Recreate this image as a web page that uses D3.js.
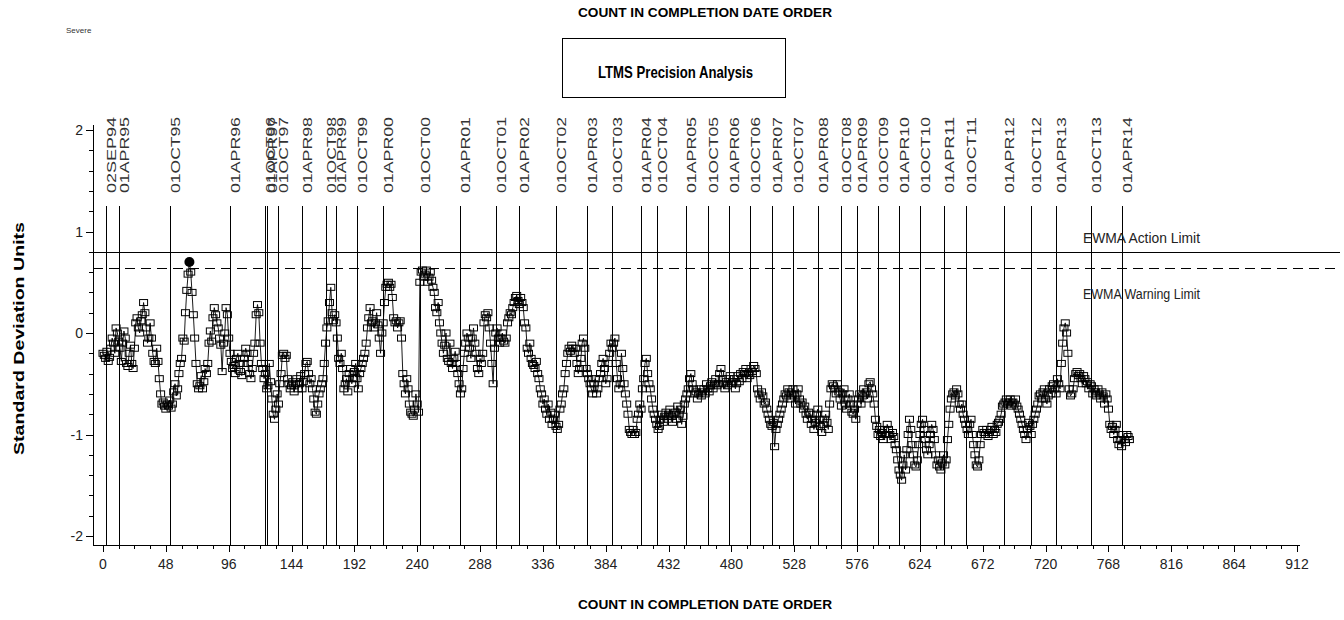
<!DOCTYPE html>
<html>
<head>
<meta charset="utf-8">
<script src="https://cdn.jsdelivr.net/npm/d3@7"></script>
<style>
  html, body { margin: 0; padding: 0; background: #fff; }
  svg { display: block; }
  .narrow { font-family: "Liberation Sans Narrow", "Arial Narrow", "Liberation Sans", sans-serif; }
  .plain { font-family: "Liberation Sans", "DejaVu Sans", sans-serif; }
</style>
</head>
<body>
<svg id="chart" width="1344" height="620"></svg>
<script>
// EWMA values in completion-date order (count 0 .. 784), standard deviation units
const ewmaValues = [
  -0.20,-0.22,-0.25,-0.18,-0.28,-0.24,-0.15,-0.05,-0.10,-0.20,
   0.05, 0.00,-0.08,-0.15,-0.28,-0.10, 0.02,-0.05,-0.30,-0.33,
  -0.20,-0.12,-0.30,-0.35,-0.15, 0.10, 0.15, 0.05, 0.00, 0.12,
   0.18, 0.30, 0.20, 0.05,-0.10,-0.05, 0.10,-0.05,-0.20,-0.28,
  -0.30,-0.15,-0.28,-0.45,-0.60,-0.70,-0.68,-0.72,-0.75,-0.70,
  -0.72,-0.66,-0.74,-0.70,-0.58,-0.50,-0.62,-0.55,-0.40,-0.30,
  -0.25,-0.05,-0.08, 0.20, 0.42, 0.58, 0.70, 0.60, 0.40, 0.18,
  -0.05,-0.30,-0.50,-0.55,-0.52,-0.42,-0.55,-0.48,-0.35,-0.40,
  -0.30,-0.10, 0.02,-0.08, 0.15, 0.25, 0.18, 0.10, 0.05,-0.05,
  -0.12,-0.38,-0.10, 0.00, 0.25, 0.18,-0.05,-0.20,-0.28,-0.35,
  -0.32,-0.40,-0.25,-0.20,-0.30,-0.38,-0.42,-0.30,-0.25,-0.15,
  -0.20,-0.30,-0.40,-0.45,-0.35,-0.20,-0.10, 0.18, 0.28, 0.20,
  -0.10,-0.30,-0.35,-0.45,-0.40,-0.55,-0.52,-0.30,-0.48,-0.65,
  -0.80,-0.85,-0.75,-0.60,-0.70,-0.50,-0.40,-0.22,-0.20,-0.25,
  -0.22,-0.45,-0.50,-0.55,-0.52,-0.48,-0.58,-0.50,-0.45,-0.55,
  -0.50,-0.42,-0.55,-0.48,-0.40,-0.30,-0.28,-0.40,-0.50,-0.45,
  -0.55,-0.65,-0.78,-0.80,-0.70,-0.60,-0.55,-0.50,-0.45,-0.30,
  -0.10, 0.05, 0.12, 0.30, 0.45, 0.20, 0.12, 0.18, 0.10,-0.05,
  -0.25,-0.30,-0.20,-0.35,-0.55,-0.50,-0.45,-0.58,-0.40,-0.35,
  -0.50,-0.45,-0.38,-0.30,-0.45,-0.55,-0.40,-0.35,-0.30,-0.25,
  -0.20,-0.10, 0.05, 0.15, 0.25, 0.10, 0.12, 0.05, 0.10, 0.20,
   0.08,-0.05,-0.20, 0.00, 0.10, 0.30, 0.45, 0.48, 0.50, 0.45,
   0.48, 0.35, 0.15, 0.10, 0.12, 0.05, 0.10, 0.12,-0.05,-0.40,
  -0.50,-0.60,-0.45,-0.55,-0.70,-0.78,-0.80,-0.82,-0.75,-0.60,
  -0.70,-0.78, 0.50, 0.60, 0.62, 0.55, 0.58, 0.62, 0.50, 0.55,
   0.60, 0.52, 0.45, 0.40, 0.25, 0.20, 0.30, 0.10, 0.00,-0.10,
  -0.20,-0.12, 0.00,-0.25,-0.28,-0.10,-0.30,-0.35,-0.25,-0.18,
  -0.30,-0.40,-0.50,-0.60,-0.55,-0.35,-0.20,-0.10, 0.00,-0.05,
  -0.15,-0.25,-0.05, 0.05,-0.10,-0.20,-0.35,-0.40,-0.25,-0.30,
  -0.20, 0.10, 0.18, 0.15, 0.20, 0.05,-0.10,-0.30,-0.50,-0.15,
   0.00, 0.05,-0.05,-0.10,-0.05, 0.00,-0.08,-0.10,-0.05, 0.10,
   0.15, 0.20, 0.18, 0.25, 0.30, 0.35, 0.37, 0.32, 0.28, 0.35,
   0.30, 0.25, 0.10, 0.05,-0.15,-0.20,-0.10,-0.25,-0.30,-0.32,
  -0.35,-0.28,-0.40,-0.45,-0.55,-0.60,-0.70,-0.65,-0.75,-0.80,
  -0.70,-0.85,-0.78,-0.90,-0.85,-0.80,-0.92,-0.95,-0.90,-0.75,
  -0.70,-0.60,-0.55,-0.40,-0.30,-0.20,-0.15,-0.18,-0.12,-0.15,
  -0.20,-0.15,-0.30,-0.40,-0.35,-0.25,-0.10,-0.05,-0.15,-0.35,
  -0.40,-0.45,-0.50,-0.55,-0.60,-0.50,-0.45,-0.60,-0.55,-0.45,
  -0.40,-0.30,-0.25,-0.35,-0.50,-0.45,-0.30,-0.20,-0.10,-0.15,
  -0.10,-0.05,-0.30,-0.45,-0.55,-0.50,-0.20,-0.35,-0.50,-0.60,
  -0.70,-0.80,-0.95,-0.98,-1.00,-0.95,-1.00,-0.98,-0.85,-0.80,
  -0.70,-0.75,-0.55,-0.45,-0.30,-0.25,-0.40,-0.50,-0.55,-0.65,
  -0.75,-0.80,-0.85,-0.90,-0.95,-0.92,-0.85,-0.80,-0.88,-0.82,
  -0.78,-0.85,-0.80,-0.75,-0.82,-0.88,-0.80,-0.78,-0.85,-0.72,
  -0.80,-0.75,-0.90,-0.82,-0.70,-0.65,-0.60,-0.55,-0.45,-0.40,
  -0.50,-0.55,-0.60,-0.58,-0.65,-0.60,-0.55,-0.62,-0.58,-0.55,
  -0.60,-0.50,-0.55,-0.58,-0.52,-0.48,-0.55,-0.50,-0.45,-0.52,
  -0.50,-0.40,-0.35,-0.45,-0.50,-0.55,-0.48,-0.52,-0.45,-0.42,
  -0.50,-0.48,-0.45,-0.55,-0.50,-0.42,-0.48,-0.40,-0.45,-0.38,
  -0.40,-0.35,-0.45,-0.40,-0.42,-0.35,-0.38,-0.32,-0.35,-0.40,
  -0.55,-0.60,-0.65,-0.58,-0.62,-0.70,-0.68,-0.75,-0.80,-0.85,
  -0.90,-0.92,-0.88,-1.12,-0.95,-0.90,-0.85,-0.80,-0.75,-0.70,
  -0.65,-0.60,-0.62,-0.55,-0.58,-0.65,-0.60,-0.55,-0.62,-0.70,
  -0.60,-0.55,-0.65,-0.70,-0.68,-0.75,-0.72,-0.80,-0.85,-0.78,
  -0.80,-0.90,-0.85,-0.95,-0.88,-0.80,-0.75,-0.85,-0.92,-0.98,
  -0.90,-0.85,-0.80,-0.88,-0.95,-0.70,-0.55,-0.50,-0.52,-0.55,
  -0.60,-0.50,-0.58,-0.65,-0.72,-0.60,-0.55,-0.70,-0.75,-0.65,
  -0.60,-0.70,-0.78,-0.80,-0.75,-0.85,-0.70,-0.65,-0.60,-0.70,
  -0.62,-0.55,-0.60,-0.58,-0.65,-0.50,-0.48,-0.55,-0.60,-0.70,
  -0.85,-0.92,-1.00,-0.95,-1.02,-0.98,-1.05,-0.95,-1.00,-0.90,
  -0.95,-1.00,-1.05,-0.98,-1.02,-1.10,-1.15,-1.25,-1.35,-1.40,
  -1.45,-1.30,-1.20,-1.35,-1.15,-1.00,-0.85,-0.95,-1.10,-1.20,
  -1.30,-1.32,-1.25,-1.10,-1.00,-0.90,-0.85,-0.95,-1.05,-1.15,
  -1.20,-1.10,-1.00,-0.90,-0.95,-1.05,-1.20,-1.30,-1.25,-1.32,
  -1.35,-1.28,-1.20,-1.30,-1.25,-1.05,-0.90,-0.75,-0.65,-0.60,
  -0.58,-0.62,-0.55,-0.60,-0.70,-0.75,-0.70,-0.80,-0.85,-0.90,
  -0.95,-1.00,-0.90,-0.85,-1.00,-1.10,-1.20,-1.30,-1.32,-1.25,
  -1.10,-1.00,-0.95,-0.98,-1.00,-0.95,-1.02,-0.98,-0.95,-0.92,
  -1.00,-0.95,-0.98,-0.90,-0.88,-0.85,-0.80,-0.72,-0.70,-0.68,
  -0.65,-0.70,-0.68,-0.65,-0.72,-0.68,-0.70,-0.65,-0.72,-0.75,
  -0.80,-0.85,-0.90,-0.95,-1.00,-1.05,-0.95,-0.88,-0.92,-1.00,
  -0.90,-0.85,-0.80,-0.75,-0.70,-0.62,-0.60,-0.65,-0.58,-0.55,
  -0.65,-0.70,-0.62,-0.55,-0.60,-0.52,-0.50,-0.55,-0.60,-0.45,
  -0.50,-0.55,-0.30,-0.10, 0.05, 0.10, 0.00,-0.20,-0.55,-0.62,
  -0.60,-0.55,-0.45,-0.40,-0.38,-0.42,-0.40,-0.45,-0.50,-0.42,
  -0.45,-0.50,-0.48,-0.55,-0.50,-0.52,-0.60,-0.55,-0.58,-0.62,
  -0.55,-0.60,-0.65,-0.58,-0.62,-0.70,-0.60,-0.65,-0.75,-0.90,
  -0.95,-0.92,-1.00,-0.95,-0.90,-1.05,-1.10,-1.05,-1.12,-1.00,
  -1.05,-1.08,-1.00,-1.02,-1.05
];

// Reference dates marked along the count axis
const dateLabels = ["02SEP94","01APR95","01OCT95","01APR96","01OCT96","01APR97","01OCT97","01APR98",
  "01OCT98","01APR99","01OCT99","01APR00","01OCT00","01APR01","01OCT01","01APR02","01OCT02","01APR03",
  "01OCT03","01APR04","01OCT04","01APR05","01OCT05","01APR06","01OCT06","01APR07","01OCT07","01APR08",
  "01OCT08","01APR09","01OCT09","01APR10","01OCT10","01APR11","01OCT11","01APR12","01OCT12","01APR13",
  "01OCT13","01APR14"];
const dateCounts = [2,12,51,97,124,125,134,152,170,178,194,214,242,273,300,318,346,370,389,411,423,445,
  462,478,494,511,527,546,564,576,592,608,624,642,659,688,709,728,755,778];

// Control limits
const actionLimit = 0.80;
const warningLimit = 0.64;

// Axis ticks
const xTicks = [0,48,96,144,192,240,288,336,384,432,480,528,576,624,672,720,768,816,864,912];
const yTicks = [2,1,0,-1,-2];

const svg = d3.select("#chart");

const x = d3.scaleLinear().domain([0, 912]).range([103, 1297]);
const y = d3.scaleLinear().domain([-2, 2]).range([536, 130]);

const axisLeftX = 93, axisTop = 125, axisBottomY = 545, axisRightX = 1300;

// Top and bottom captions
svg.append("text").attr("class", "narrow")
  .attr("x", 578).attr("y", 17)
  .attr("font-size", 13).attr("font-weight", "bold")
  .attr("textLength", 254).attr("lengthAdjust", "spacingAndGlyphs")
  .text("COUNT IN COMPLETION DATE ORDER");
svg.append("text").attr("class", "narrow")
  .attr("x", 578).attr("y", 609)
  .attr("font-size", 13).attr("font-weight", "bold")
  .attr("textLength", 254).attr("lengthAdjust", "spacingAndGlyphs")
  .text("COUNT IN COMPLETION DATE ORDER");

svg.append("text").attr("class", "plain")
  .attr("x", 66).attr("y", 33).attr("font-size", 8).attr("fill", "#333")
  .text("Severe");

// Title box
svg.append("rect").attr("x", 562.5).attr("y", 38.5).attr("width", 223).attr("height", 59)
  .attr("fill", "none").attr("stroke", "#000").attr("stroke-width", 1);
svg.append("text").attr("class", "narrow")
  .attr("x", 598).attr("y", 78)
  .attr("font-size", 17).attr("font-weight", "bold")
  .attr("textLength", 155).attr("lengthAdjust", "spacingAndGlyphs")
  .text("LTMS Precision Analysis");

// Y axis title
svg.append("text").attr("class", "plain")
  .attr("transform", "translate(24,455) rotate(-90)")
  .attr("font-size", 15).attr("font-weight", "bold")
  .attr("textLength", 233).attr("lengthAdjust", "spacingAndGlyphs")
  .text("Standard  Deviation  Units");

// Axes
const axes = svg.append("g").attr("stroke", "#000").attr("stroke-width", 1);
axes.append("line").attr("x1", axisLeftX + 0.5).attr("x2", axisLeftX + 0.5)
  .attr("y1", axisTop).attr("y2", axisBottomY);
axes.append("line").attr("x1", axisLeftX).attr("x2", axisRightX)
  .attr("y1", axisBottomY + 0.5).attr("y2", axisBottomY + 0.5);

// y ticks: major at integers, minor every 0.2
const yMinor = d3.range(-2, 2.0001, 0.2).filter(v => Math.abs(v - Math.round(v)) > 1e-6);
axes.selectAll(".ymaj").data(yTicks).enter().append("line")
  .attr("x1", axisLeftX - 7).attr("x2", axisLeftX)
  .attr("y1", d => Math.round(y(d)) + 0.5).attr("y2", d => Math.round(y(d)) + 0.5);
axes.selectAll(".ymin").data(yMinor).enter().append("line")
  .attr("x1", axisLeftX - 4).attr("x2", axisLeftX)
  .attr("y1", d => Math.round(y(d)) + 0.5).attr("y2", d => Math.round(y(d)) + 0.5);
svg.selectAll(".ylab").data(yTicks).enter().append("text").attr("class", "narrow")
  .attr("x", axisLeftX - 10).attr("y", d => y(d) + 5)
  .attr("text-anchor", "end").attr("font-size", 14).attr("fill", "#222")
  .text(d => d < 0 ? "-" + Math.abs(d) : String(d));

// x ticks: major every 48, minor every 12
const xMinor = d3.range(12, 912, 12).filter(v => v % 48 !== 0);
axes.selectAll(".xmaj").data(xTicks).enter().append("line")
  .attr("x1", d => Math.round(x(d)) + 0.5).attr("x2", d => Math.round(x(d)) + 0.5)
  .attr("y1", axisBottomY).attr("y2", axisBottomY + 7);
axes.selectAll(".xmin").data(xMinor).enter().append("line")
  .attr("x1", d => Math.round(x(d)) + 0.5).attr("x2", d => Math.round(x(d)) + 0.5)
  .attr("y1", axisBottomY).attr("y2", axisBottomY + 4);
svg.selectAll(".xlab").data(xTicks).enter().append("text").attr("class", "narrow")
  .attr("x", d => x(d)).attr("y", 569)
  .attr("text-anchor", "middle").attr("font-size", 14).attr("fill", "#222")
  .text(d => d);

// Reference date lines with rotated labels
const dates = dateLabels.map((label, i) => ({ label, count: dateCounts[i] }));
svg.append("g").selectAll("line").data(dates).enter().append("line")
  .attr("x1", d => Math.round(x(d.count)) + 0.5).attr("x2", d => Math.round(x(d.count)) + 0.5)
  .attr("y1", 206).attr("y2", axisBottomY)
  .attr("stroke", "#000").attr("stroke-width", 1);
svg.append("g").selectAll("text").data(dates).enter().append("text").attr("class", "plain")
  .attr("transform", d => `translate(${x(d.count) + 10},193) rotate(-90)`)
  .attr("font-size", 13).attr("fill", "#333")
  .attr("textLength", 76).attr("lengthAdjust", "spacingAndGlyphs")
  .text(d => d.label);

// Control limit lines
svg.append("line").attr("x1", axisLeftX).attr("x2", 1340)
  .attr("y1", Math.round(y(actionLimit)) + 0.5).attr("y2", Math.round(y(actionLimit)) + 0.5)
  .attr("stroke", "#000").attr("stroke-width", 1);
svg.append("line").attr("x1", axisLeftX).attr("x2", 1340)
  .attr("y1", Math.round(y(warningLimit)) + 0.5).attr("y2", Math.round(y(warningLimit)) + 0.5)
  .attr("stroke", "#000").attr("stroke-width", 1).attr("stroke-dasharray", "10,6");
svg.append("text").attr("class", "narrow")
  .attr("x", 1083).attr("y", y(actionLimit) - 9)
  .attr("font-size", 14).attr("fill", "#222")
  .attr("textLength", 117).attr("lengthAdjust", "spacingAndGlyphs")
  .text("EWMA Action Limit");
svg.append("text").attr("class", "narrow")
  .attr("x", 1083).attr("y", y(warningLimit) + 31)
  .attr("font-size", 14).attr("fill", "#222")
  .attr("textLength", 117).attr("lengthAdjust", "spacingAndGlyphs")
  .text("EWMA Warning Limit");

// EWMA series
const points = ewmaValues.map((v, i) => ({ i, v }));
const line = d3.line().x(d => x(d.i)).y(d => y(d.v));
svg.append("path").datum(points)
  .attr("d", line).attr("fill", "none").attr("stroke", "#000").attr("stroke-width", 0.9);

const within = points.filter(d => d.v <= warningLimit);
const beyond = points.filter(d => d.v > warningLimit);
svg.append("g").selectAll("rect").data(within).enter().append("rect")
  .attr("x", d => x(d.i) - 4).attr("y", d => y(d.v) - 3)
  .attr("width", 8).attr("height", 6)
  .attr("fill", "none").attr("stroke", "#000").attr("stroke-width", 1);
svg.append("g").selectAll("circle").data(beyond).enter().append("circle")
  .attr("cx", d => x(d.i)).attr("cy", d => y(d.v)).attr("r", 5)
  .attr("fill", "#000");
</script>
</body>
</html>
